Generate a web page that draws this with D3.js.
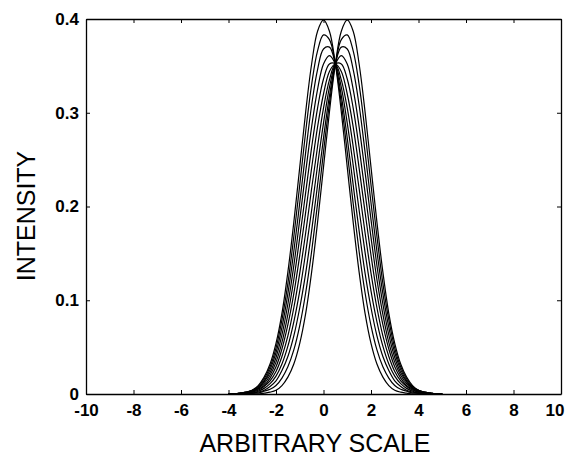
<!DOCTYPE html>
<html>
<head>
<meta charset="utf-8">
<script src="https://cdn.jsdelivr.net/npm/d3@7"></script>
<style>
  html, body { margin: 0; padding: 0; background: #fff; }
  svg text { font-family: "Liberation Sans", Arial, sans-serif; fill: #000; }
</style>
</head>
<body>
<svg id="chart" width="566" height="458"></svg>
<script>
// x positions shared by all curves (arbitrary scale)
const xValues = d3.range(37).map(i => -4 + 0.25 * i);

// intensity curves, left-peaked to right-peaked
const curve10 = [0.000,0.000,0.001,0.002,0.004,0.009,0.018,0.032,0.054,0.086,0.130,0.183,0.242,0.301,0.352,0.387,0.399,0.387,0.352,0.301,0.242,0.183,0.130,0.086,0.054,0.032,0.018,0.009,0.004,0.002,0.001,0.000,0.000,0.000,0.000,0.000,0.000];
const curve09 = [0.000,0.000,0.001,0.002,0.004,0.008,0.016,0.029,0.049,0.079,0.118,0.168,0.223,0.280,0.330,0.366,0.383,0.378,0.352,0.310,0.258,0.203,0.152,0.108,0.073,0.047,0.029,0.017,0.009,0.005,0.003,0.001,0.001,0.000,0.000,0.000,0.000];
const curve08 = [0.000,0.000,0.001,0.002,0.004,0.007,0.014,0.026,0.044,0.071,0.107,0.152,0.204,0.258,0.308,0.346,0.368,0.370,0.352,0.318,0.273,0.223,0.174,0.129,0.092,0.062,0.040,0.025,0.014,0.008,0.004,0.002,0.001,0.000,0.000,0.000,0.000];
const curve07 = [0.000,0.000,0.001,0.001,0.003,0.006,0.013,0.023,0.039,0.063,0.096,0.137,0.186,0.237,0.285,0.325,0.352,0.361,0.352,0.327,0.289,0.244,0.196,0.151,0.110,0.077,0.051,0.032,0.019,0.011,0.006,0.003,0.001,0.001,0.000,0.000,0.000];
const curve06 = [0.000,0.000,0.001,0.001,0.003,0.006,0.011,0.020,0.034,0.055,0.085,0.122,0.167,0.215,0.263,0.305,0.336,0.352,0.352,0.335,0.305,0.264,0.219,0.172,0.129,0.092,0.062,0.040,0.024,0.014,0.008,0.004,0.002,0.001,0.000,0.000,0.000];
const curve05 = [0.000,0.000,0.000,0.001,0.002,0.005,0.009,0.017,0.029,0.048,0.074,0.107,0.148,0.194,0.241,0.285,0.320,0.344,0.352,0.344,0.320,0.285,0.241,0.194,0.148,0.107,0.074,0.048,0.029,0.017,0.009,0.005,0.002,0.001,0.000,0.000,0.000];
const curve04 = [0.000,0.000,0.000,0.001,0.002,0.004,0.008,0.014,0.024,0.040,0.062,0.092,0.129,0.172,0.219,0.264,0.305,0.335,0.352,0.352,0.336,0.305,0.263,0.215,0.167,0.122,0.085,0.055,0.034,0.020,0.011,0.006,0.003,0.001,0.001,0.000,0.000];
const curve03 = [0.000,0.000,0.000,0.001,0.001,0.003,0.006,0.011,0.019,0.032,0.051,0.077,0.110,0.151,0.196,0.244,0.289,0.327,0.352,0.361,0.352,0.325,0.285,0.237,0.186,0.137,0.096,0.063,0.039,0.023,0.013,0.006,0.003,0.001,0.001,0.000,0.000];
const curve02 = [0.000,0.000,0.000,0.000,0.001,0.002,0.004,0.008,0.014,0.025,0.040,0.062,0.092,0.129,0.174,0.223,0.273,0.318,0.352,0.370,0.368,0.346,0.308,0.258,0.204,0.152,0.107,0.071,0.044,0.026,0.014,0.007,0.004,0.002,0.001,0.000,0.000];
const curve01 = [0.000,0.000,0.000,0.000,0.001,0.001,0.003,0.005,0.009,0.017,0.029,0.047,0.073,0.108,0.152,0.203,0.258,0.310,0.352,0.378,0.383,0.366,0.330,0.280,0.223,0.168,0.118,0.079,0.049,0.029,0.016,0.008,0.004,0.002,0.001,0.000,0.000];
const curve00 = [0.000,0.000,0.000,0.000,0.000,0.000,0.001,0.002,0.004,0.009,0.018,0.032,0.054,0.086,0.130,0.183,0.242,0.301,0.352,0.387,0.399,0.387,0.352,0.301,0.242,0.183,0.130,0.086,0.054,0.032,0.018,0.009,0.004,0.002,0.001,0.000,0.000];

const allCurves = [curve10, curve09, curve08, curve07, curve06, curve05, curve04, curve03, curve02, curve01, curve00];

const xTicks = [-10, -8, -6, -4, -2, 0, 2, 4, 6, 8, 10];
const yTicks = [0, 0.1, 0.2, 0.3, 0.4];
const yTickLabels = ["0", "0.1", "0.2", "0.3", "0.4"];

const xLabel = "ARBITRARY SCALE";
const yLabel = "INTENSITY";

const svg = d3.select("#chart");
const mLeft = 86, mRight = 561, mTop = 19, mBottom = 394;

const x = d3.scaleLinear().domain([-10, 10]).range([mLeft, mRight]);
const y = d3.scaleLinear().domain([0, 0.4]).range([mBottom, mTop]);

// curves
const line = d3.line()
  .x((d, i) => x(xValues[i]))
  .y(d => y(d))
  .curve(d3.curveCatmullRom.alpha(0.5));

svg.append("g")
  .selectAll("path")
  .data(allCurves)
  .join("path")
  .attr("d", d => line(d))
  .attr("fill", "none")
  .attr("stroke", "#000")
  .attr("stroke-width", 1.2);

// axes with inward ticks on all four sides
const tickLen = 4;
const bottomAxis = d3.axisBottom(x).tickValues(xTicks).tickSizeInner(-tickLen).tickSizeOuter(0).tickPadding(10).tickFormat(d => String(d));
const topAxis = d3.axisTop(x).tickValues(xTicks).tickSizeInner(-tickLen).tickSizeOuter(0).tickFormat("");
const leftAxis = d3.axisLeft(y).tickValues(yTicks).tickSizeInner(-tickLen).tickSizeOuter(0).tickPadding(7)
  .tickFormat((d, i) => yTickLabels[i]);
const rightAxis = d3.axisRight(y).tickValues(yTicks).tickSizeInner(-tickLen).tickSizeOuter(0).tickFormat("");

function styleAxis(g) {
  g.select(".domain").attr("stroke", "#000").attr("stroke-width", 1.3);
  g.selectAll(".tick line").attr("stroke", "#000").attr("stroke-width", 1);
  g.selectAll(".tick text")
    .attr("font-family", "'Liberation Sans', Arial, sans-serif")
    .attr("font-size", 17)
    .attr("font-weight", "bold")
    .attr("fill", "#000");
}

const gB = svg.append("g").attr("transform", `translate(0,${mBottom})`).call(bottomAxis).call(styleAxis);
gB.selectAll(".tick text").filter(d => d === 10).attr("text-anchor", "end").attr("dx", 3);
svg.append("g").attr("transform", `translate(0,${mTop})`).call(topAxis).call(styleAxis);
svg.append("g").attr("transform", `translate(${mLeft},0)`).call(leftAxis).call(styleAxis);
svg.append("g").attr("transform", `translate(${mRight},0)`).call(rightAxis).call(styleAxis);

// axis titles
svg.append("text")
  .attr("x", 315).attr("y", 452)
  .attr("text-anchor", "middle")
  .attr("font-size", 25)
  .text(xLabel);

svg.append("text")
  .attr("transform", "translate(35,216) rotate(-90)")
  .attr("text-anchor", "middle")
  .attr("font-size", 25)
  .text(yLabel);
</script>
</body>
</html>
